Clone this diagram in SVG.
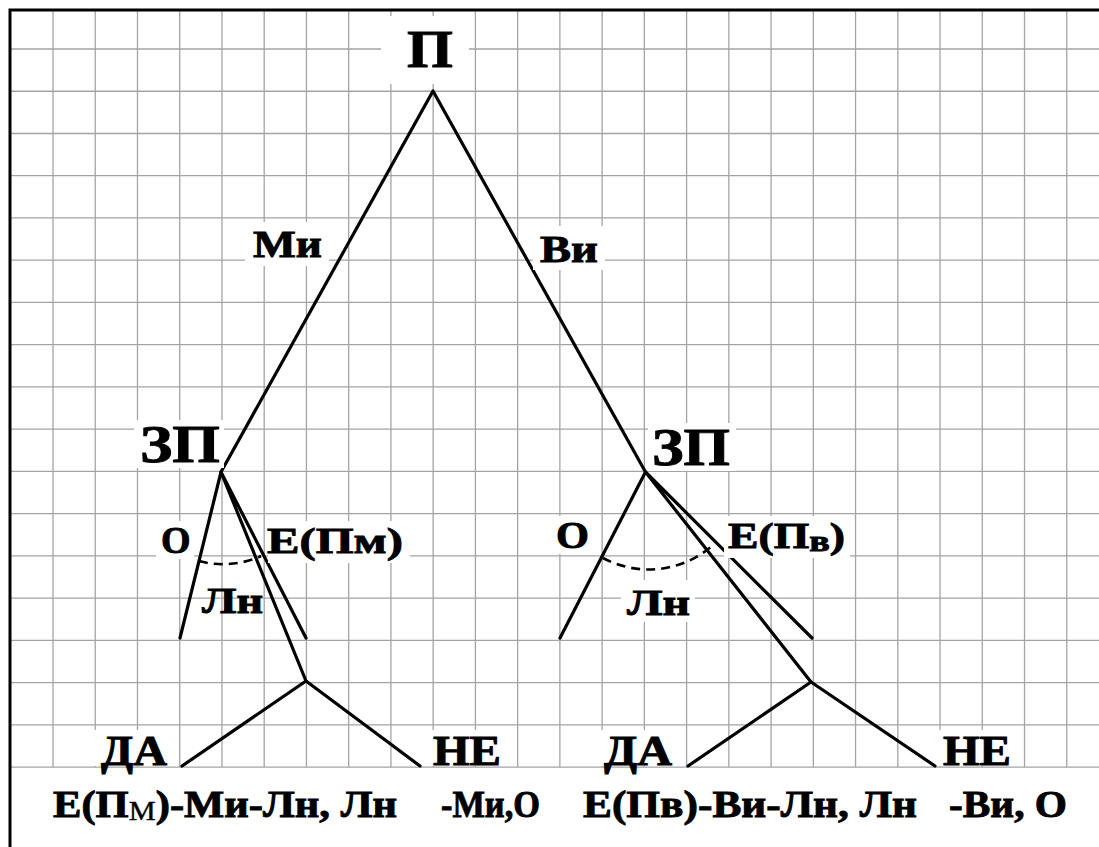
<svg xmlns="http://www.w3.org/2000/svg" width="1099" height="847" viewBox="0 0 1099 847">
<style>
.grid{stroke:#a4a4a4;stroke-width:1.3;fill:none}
.frame{stroke:#000;stroke-width:3;fill:none}
.ln{stroke:#000;stroke-width:3.2;fill:none;stroke-linecap:round;stroke-linejoin:round}
.arc{stroke:#000;stroke-width:2.6;fill:none;stroke-dasharray:9 6}
.bg{fill:#fff}
text{font-family:"Liberation Serif","Times New Roman",serif;font-weight:bold;fill:#000;stroke:#000;stroke-width:0.9}
.big{font-size:52px}
.mid{font-size:38px}
.sm{font-size:36px}
.lab{font-size:42px}
.bot{font-size:38px}
</style>
<rect x="0" y="0" width="1099" height="847" fill="#fff"/>
<g id="grid">
<path class="grid" d="M53 10V767M95.24 10V767M137.48 10V767M179.72 10V767M221.96 10V767M264.2 10V767M306.44 10V767M348.68 10V767M390.92 10V767M433.16 10V767M475.4 10V767M517.64 10V767M559.88 10V767M602.12 10V767M644.36 10V767M686.6 10V767M728.84 10V767M771.08 10V767M813.32 10V767M855.56 10V767M897.8 10V767M940.04 10V767M982.28 10V767M1024.52 10V767M1066.76 10V767"/>
<path class="grid" d="M10 49H1099M10 91.24H1099M10 133.48H1099M10 175.72H1099M10 217.96H1099M10 260.2H1099M10 302.44H1099M10 344.68H1099M10 386.92H1099M10 429.16H1099M10 471.4H1099M10 513.64H1099M10 555.88H1099M10 598.12H1099M10 640.36H1099M10 682.6H1099M10 724.84H1099M10 767.08H1099"/>
</g>
<path class="frame" d="M10 847V10H1099"/>
<g id="connectors">
<path class="ln" d="M221 472L433 91L645.5 472"/>
<path class="ln" d="M180 638L221 472L306 638M221 472L306 681"/>
<path class="ln" d="M182 766L306 681L420 766"/>
<path class="ln" d="M560 638L645.5 472L812 638M645.5 472L811 682"/>
<path class="ln" d="M688 766L811 682L935 766"/>
<path class="arc" d="M199 561A92 92 0 0 0 261 556"/>
<path class="arc" d="M603 558A97 97 0 0 0 712 546"/>
</g>
<g id="node-P">
<rect class="bg" x="381" y="16" width="88" height="68"/>
<text class="big" x="407" y="67" textLength="46" lengthAdjust="spacingAndGlyphs">П</text>
</g>
<g id="label-Mi">
<rect class="bg" x="245" y="222" width="84" height="44"/>
<text class="mid" x="253" y="257" textLength="69" lengthAdjust="spacingAndGlyphs">Ми</text>
</g>
<g id="label-Vi">
<rect class="bg" x="533" y="226" width="72" height="44"/>
<text class="mid" x="540" y="262" textLength="58" lengthAdjust="spacingAndGlyphs">Ви</text>
</g>
<g id="node-ZP-left">
<rect class="bg" x="134" y="420" width="90" height="48"/>
<text class="big" x="140" y="462" textLength="80" lengthAdjust="spacingAndGlyphs">ЗП</text>
</g>
<g id="node-ZP-right">
<rect class="bg" x="648" y="423" width="88" height="48"/>
<text class="big" x="652" y="465" textLength="78" lengthAdjust="spacingAndGlyphs">ЗП</text>
</g>
<g id="label-O-left">
<rect class="bg" x="156" y="521" width="38" height="38"/>
<text class="mid" x="161" y="553">О</text>
</g>
<g id="label-E-Pm">
<rect class="bg" x="268" y="521" width="142" height="42"/>
<text class="sm" x="267" y="553" textLength="136" lengthAdjust="spacingAndGlyphs">Е(Пм)</text>
</g>
<g id="label-Ln-left">
<text class="sm" x="202" y="613" textLength="61" lengthAdjust="spacingAndGlyphs">Лн</text>
</g>
<g id="label-O-right">
<rect class="bg" x="551" y="516" width="44" height="38"/>
<text class="mid" x="556" y="548" textLength="33" lengthAdjust="spacingAndGlyphs">О</text>
</g>
<g id="label-E-Pv">
<rect class="bg" x="724" y="516" width="126" height="42"/>
<text class="sm" x="728" y="548" textLength="117" lengthAdjust="spacingAndGlyphs">Е(П<tspan font-size="30" dy="3">в</tspan><tspan dy="-3">)</tspan></text>
</g>
<g id="label-Ln-right">
<rect class="bg" x="621" y="580" width="74" height="42"/>
<text class="sm" x="627" y="615" textLength="63" lengthAdjust="spacingAndGlyphs">Лн</text>
</g>
<g id="node-DA-left">
<rect class="bg" x="94" y="730" width="80" height="36"/>
<text class="lab" x="101" y="765" textLength="66" lengthAdjust="spacingAndGlyphs">ДА</text>
</g>
<g id="node-NE-left">
<rect class="bg" x="427" y="730" width="80" height="36"/>
<text class="lab" x="433" y="765" textLength="68" lengthAdjust="spacingAndGlyphs">НЕ</text>
</g>
<g id="node-DA-right">
<rect class="bg" x="597" y="730" width="82" height="36"/>
<text class="lab" x="604" y="765" textLength="68" lengthAdjust="spacingAndGlyphs">ДА</text>
</g>
<g id="node-NE-right">
<rect class="bg" x="937" y="730" width="82" height="36"/>
<text class="lab" x="943" y="765" textLength="68" lengthAdjust="spacingAndGlyphs">НЕ</text>
</g>
<g id="result-left">
<text class="bot" x="53" y="817" textLength="344" lengthAdjust="spacingAndGlyphs">Е(П<tspan font-size="27" font-weight="normal" stroke-width="0.4" dy="3">М</tspan><tspan dy="-3">)-Ми-Лн, Лн</tspan></text>
<text class="bot" x="441" y="817" textLength="99" lengthAdjust="spacingAndGlyphs">-Ми,О</text>
</g>
<g id="result-right">
<text class="bot" x="583" y="817" textLength="334" lengthAdjust="spacingAndGlyphs">Е(Пв)-Ви-Лн, Лн</text>
<text class="bot" x="949" y="817" textLength="118" lengthAdjust="spacingAndGlyphs">-Ви, О</text>
</g>
</svg>
